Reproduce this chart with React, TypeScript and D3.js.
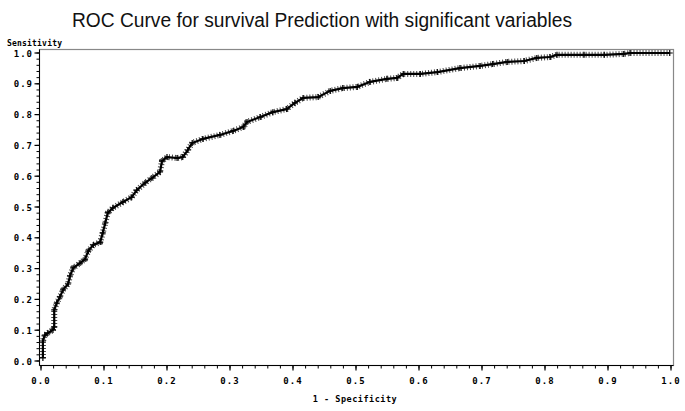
import React from "react";
import * as d3 from "d3";

const fpr = [0.003,0.003,0.006,0.011,0.019,0.021,0.021,0.025,0.030,0.035,0.043,0.046,0.051,0.062,0.070,0.075,0.083,0.094,0.098,0.102,0.106,0.114,0.130,0.144,0.152,0.165,0.176,0.189,0.192,0.200,0.216,0.225,0.233,0.240,0.257,0.284,0.305,0.321,0.327,0.348,0.368,0.390,0.403,0.416,0.440,0.459,0.479,0.502,0.522,0.549,0.565,0.575,0.602,0.629,0.665,0.697,0.717,0.740,0.767,0.787,0.808,0.819,0.862,0.894,0.925,0.935,0.998];
const tpr = [0.010,0.065,0.084,0.091,0.101,0.110,0.166,0.188,0.208,0.231,0.250,0.276,0.302,0.318,0.331,0.357,0.377,0.386,0.416,0.448,0.481,0.497,0.516,0.532,0.555,0.578,0.594,0.614,0.649,0.662,0.659,0.662,0.685,0.708,0.721,0.734,0.747,0.760,0.776,0.792,0.808,0.818,0.838,0.854,0.857,0.877,0.886,0.890,0.906,0.916,0.919,0.932,0.932,0.938,0.951,0.958,0.964,0.971,0.974,0.984,0.987,0.994,0.994,0.994,0.997,1.0,1.0];
const xTicks = [0, 0.1, 0.2, 0.3, 0.4, 0.5, 0.6, 0.7, 0.8, 0.9, 1.0];
const yTicks = [0, 0.1, 0.2, 0.3, 0.4, 0.5, 0.6, 0.7, 0.8, 0.9, 1.0];
const title = "ROC Curve for survival Prediction with significant variables";
const xLabel = "1 - Specificity";
const yLabel = "Sensitivity";

export default function App() {
  const x = d3.scaleLinear().domain([0, 1]).range([41, 671]);
  const y = d3.scaleLinear().domain([0, 1]).range([361, 53]);
  const pts = fpr.map((f, i) => [f, tpr[i]] as [number, number]);
  const line = d3.line<[number, number]>().x(d => x(d[0])).y(d => y(d[1]));
  const path = line(pts) || "";
  const minor = d3.range(0, 1.0001, 0.02);
  const mono = "'DejaVu Sans Mono', monospace";
  const left = 39.5, right = 673.5, top = 49.5, bottom = 365.5;
  return (
    <svg width={685} height={411} style={{ position: "absolute", left: 0, top: 0, background: "#fff" }}>
      <rect x={0} y={0} width={685} height={411} fill="#fff" />
      <text x={72} y={27} fontFamily="'Liberation Sans', Arial, sans-serif" fontSize={20} textLength={500} lengthAdjust="spacingAndGlyphs" fill="#111">{title}</text>
      <text x={7} y={46} fontFamily={mono} fontWeight="bold" fontSize={8} letterSpacing={0.2} fill="#000">{yLabel}</text>
      <rect x={left} y={top} width={right - left} height={bottom - top} fill="none" stroke="#888" strokeWidth={1.2} />
      <line x1={left} x2={left} y1={top} y2={bottom} stroke="#000" strokeWidth={1} />
      <line x1={left} x2={right} y1={bottom} y2={bottom} stroke="#000" strokeWidth={1} />
      {minor.map((t, i) => (
        <line key={"xm" + i} x1={x(t)} x2={x(t)} y1={bottom} y2={bottom + 3} stroke="#000" strokeWidth={1} />
      ))}
      {minor.map((t, i) => (
        <line key={"ym" + i} x1={left - 3} x2={left} y1={y(t)} y2={y(t)} stroke="#000" strokeWidth={1} />
      ))}
      {xTicks.map((t, i) => (
        <g key={"xt" + i}>
          <line x1={x(t)} x2={x(t)} y1={bottom} y2={bottom + 5} stroke="#000" strokeWidth={1.2} />
          <text x={x(t)} y={384} textAnchor="middle" fontFamily={mono} fontWeight="bold" fontSize={9} letterSpacing={1} fill="#000">{t.toFixed(1)}</text>
        </g>
      ))}
      {yTicks.map((t, i) => (
        <g key={"yt" + i}>
          <line x1={left - 5} x2={left} y1={y(t)} y2={y(t)} stroke="#000" strokeWidth={1.2} />
          <text x={33} y={y(t) + 3.5} textAnchor="end" fontFamily={mono} fontWeight="bold" fontSize={9} letterSpacing={1} fill="#000">{t.toFixed(1)}</text>
        </g>
      ))}
      <text x={355} y={402} textAnchor="middle" fontFamily={mono} fontWeight="bold" fontSize={8.5} letterSpacing={0.5} fill="#000">{xLabel}</text>
      <path d={path} fill="none" stroke="#444" strokeWidth={6} strokeDasharray="1 2" />
      <path d={path} fill="none" stroke="#000" strokeWidth={2.2} strokeLinejoin="round" />
      {pts.map((p, i) => (
        <path key={"p" + i} d={`M${x(p[0]) - 3},${y(p[1])}h6M${x(p[0])},${y(p[1]) - 3}v6`} stroke="#000" strokeWidth={1.2} />
      ))}
    </svg>
  );
}
